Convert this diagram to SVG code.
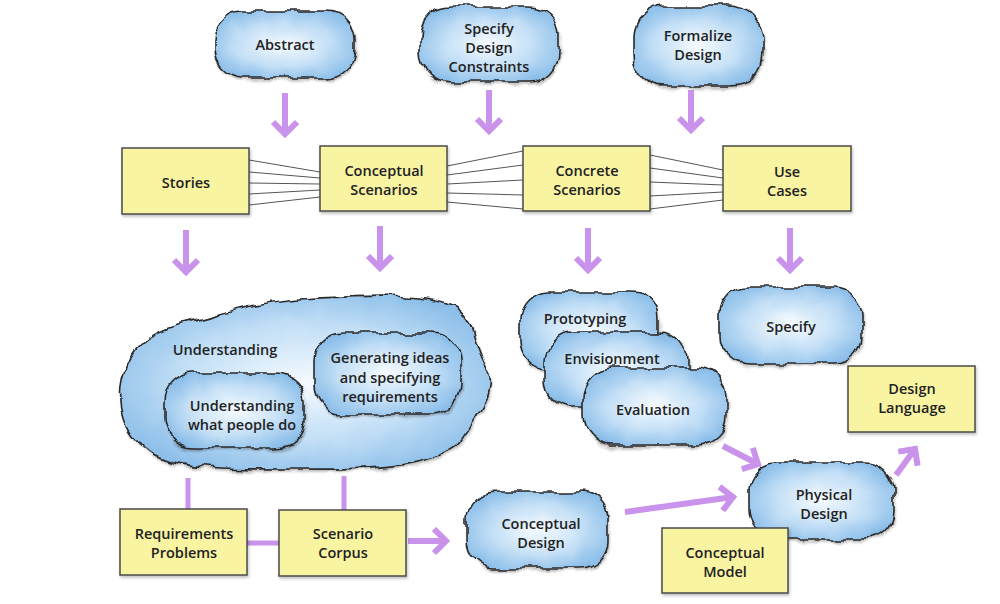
<svg xmlns="http://www.w3.org/2000/svg" width="1000" height="604" viewBox="0 0 1000 604">
<defs>
<radialGradient id="cg" cx="50%" cy="50%" r="60%">
<stop offset="0" stop-color="#f6fbff"/>
<stop offset="0.55" stop-color="#c3dff6"/>
<stop offset="1" stop-color="#86bbe8"/>
</radialGradient>
<filter id="rough" x="-10%" y="-15%" width="120%" height="130%">
<feTurbulence type="fractalNoise" baseFrequency="0.045" numOctaves="2" seed="7" result="n"/>
<feDisplacementMap in="SourceGraphic" in2="n" scale="11" xChannelSelector="R" yChannelSelector="G" result="d"/>
<feGaussianBlur in="SourceAlpha" stdDeviation="1.2" result="b"/>
<feOffset in="b" dx="1" dy="2" result="o"/>
<feDisplacementMap in="o" in2="n" scale="11" xChannelSelector="R" yChannelSelector="G" result="od"/>
<feComponentTransfer in="od" result="s"><feFuncA type="linear" slope="0.25"/></feComponentTransfer>
<feMerge><feMergeNode in="s"/><feMergeNode in="d"/></feMerge>
</filter>
<filter id="shadow" x="-10%" y="-10%" width="125%" height="130%">
<feDropShadow dx="1" dy="2" stdDeviation="1.5" flood-color="#000" flood-opacity="0.25"/>
</filter>
<marker id="ah" markerUnits="userSpaceOnUse" markerWidth="30" markerHeight="30" refX="15" refY="14" orient="auto">
<path d="M3,2 L15,14 L3,26" fill="none" stroke="#c993ec" stroke-width="6" stroke-linejoin="miter"/>
</marker>
<style>
.cloud{fill:url(#cg);stroke:#2a2a2a;stroke-width:1.6;filter:url(#rough)}
.box{fill:#f9f4a2;stroke:#4a4a4a;stroke-width:1.5;filter:url(#shadow)}
text{font-family:"Open Sans","Liberation Sans",sans-serif;font-size:14.5px;font-weight:600;fill:#222;text-anchor:middle;dominant-baseline:central}
.arr{stroke:#c993ec;stroke-width:6;fill:none;marker-end:url(#ah)}
.pl{stroke:#c993ec;stroke-width:5;fill:none}
.tl{stroke:#555;stroke-width:1;fill:none}
</style>
</defs>
<rect width="1000" height="604" fill="#ffffff"/>

<g id="connectors">
<path class="tl" d="M249,160 L320,172 M249,172 L320,178 M249,183 L320,184 M249,194 L320,190 M249,205 L320,197"/>
<path class="tl" d="M447,166 L523,151 M447,175 L523,165 M447,184 L523,180 M447,193 L523,195 M447,202 L523,209"/>
<path class="tl" d="M650,155 L723,170 M650,168 L723,178 M650,182 L723,185 M650,196 L723,192 M650,209 L723,200"/>
<path class="arr" d="M285,93 L285,134"/>
<path class="arr" d="M489,90 L489,131"/>
<path class="arr" d="M691,90 L691,130"/>
<path class="arr" d="M186,230 L186,272"/>
<path class="arr" d="M380,226 L380,268"/>
<path class="arr" d="M588,228 L588,270"/>
<path class="arr" d="M790,228 L790,270"/>
<path class="arr" d="M723,446 L758,464"/>
<path class="arr" d="M625,512 L733,497"/>
<path class="arr" d="M896,475 L915,449"/>
<path class="arr" d="M408,541 L446,541"/>
<path class="pl" d="M188,478 L188,509 M344,476 L344,510 M247,543 L279,543"/>
</g>

<g id="abstract"><rect class="cloud" x="214" y="12" width="140" height="66" rx="28"/><text x="285" y="44">Abstract</text></g>
<g id="specify-design-constraints"><rect class="cloud" x="420" y="6" width="138" height="76" rx="30"/><text x="489" y="28">Specify</text><text x="489" y="47">Design</text><text x="489" y="66">Constraints</text></g>
<g id="formalize-design"><rect class="cloud" x="634" y="6" width="128" height="80" rx="32"/><text x="698" y="35">Formalize</text><text x="698" y="54">Design</text></g>

<g id="stories"><rect class="box" x="122" y="148" width="127" height="66"/><text x="186" y="182">Stories</text></g>
<g id="conceptual-scenarios"><rect class="box" x="320" y="146" width="127" height="65"/><text x="384" y="170">Conceptual</text><text x="384" y="189">Scenarios</text></g>
<g id="concrete-scenarios"><rect class="box" x="523" y="146" width="127" height="65"/><text x="587" y="170">Concrete</text><text x="587" y="189">Scenarios</text></g>
<g id="use-cases"><rect class="box" x="723" y="146" width="128" height="65"/><text x="787" y="171">Use</text><text x="787" y="190">Cases</text></g>

<g id="understanding"><path class="cloud" d="M121,402 C117,362 140,334 182,324 C222,315 252,302 300,299 C360,296 420,292 452,306 C476,318 472,346 488,370 C498,396 474,420 462,440 C442,466 380,470 300,469 C230,469 176,470 150,452 C130,437 123,422 121,402 Z"/><text x="225" y="349">Understanding</text></g>
<g id="generating-ideas"><rect class="cloud" x="314" y="333" width="146" height="80" rx="28"/><text x="390" y="357">Generating ideas</text><text x="390" y="377">and specifying</text><text x="390" y="396">requirements</text></g>
<g id="understanding-people"><rect class="cloud" x="165" y="373" width="140" height="75" rx="28"/><text x="242" y="405">Understanding</text><text x="242" y="424">what people do</text></g>

<g id="prototyping"><rect class="cloud" x="519" y="292" width="140" height="78" rx="28"/><text x="585" y="318">Prototyping</text></g>
<g id="envisionment"><rect class="cloud" x="545" y="332" width="142" height="76" rx="28"/><text x="612" y="358">Envisionment</text></g>
<g id="evaluation"><rect class="cloud" x="584" y="368" width="142" height="77" rx="28"/><text x="653" y="409">Evaluation</text></g>
<g id="specify"><rect class="cloud" x="720" y="287" width="142" height="76" rx="28"/><text x="791" y="326">Specify</text></g>

<g id="design-language"><rect class="box" x="848" y="366" width="127" height="66"/><text x="912" y="388">Design</text><text x="912" y="407">Language</text></g>

<g id="physical-design"><rect class="cloud" x="750" y="462" width="143" height="77" rx="28"/><text x="824" y="494">Physical</text><text x="824" y="513">Design</text></g>
<g id="conceptual-design"><rect class="cloud" x="467" y="492" width="141" height="76" rx="28"/><text x="541" y="523">Conceptual</text><text x="541" y="542">Design</text></g>

<g id="requirements-problems"><rect class="box" x="120" y="509" width="127" height="66"/><text x="184" y="533">Requirements</text><text x="184" y="552">Problems</text></g>
<g id="scenario-corpus"><rect class="box" x="279" y="510" width="127" height="66"/><text x="343" y="533">Scenario</text><text x="343" y="552">Corpus</text></g>
<g id="conceptual-model"><rect class="box" x="662" y="528" width="126" height="65"/><text x="725" y="552">Conceptual</text><text x="725" y="571">Model</text></g>
</svg>
